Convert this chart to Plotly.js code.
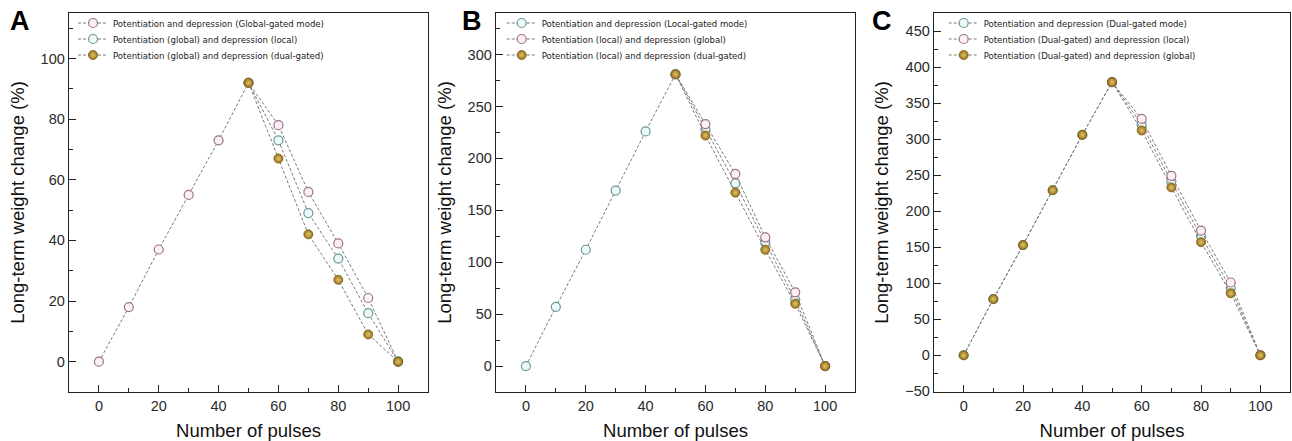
<!DOCTYPE html>
<html>
<head>
<meta charset="utf-8">
<script src="https://cdn.plot.ly/plotly-3.0.1.min.js"></script>
<style>html,body{margin:0;padding:0;background:#fff;}#chart{width:1292px;height:441px;}</style>
</head>
<body>
<div id="chart"></div>
<script>
// ---- Data ----
const pulsesFull = [0, 10, 20, 30, 40, 50, 60, 70, 80, 90, 100];
const pulsesDep = [50, 60, 70, 80, 90, 100];

// Panel A
const aNames = ["Potentiation and depression (Global-gated mode)",
                "Potentiation (global) and depression (local)",
                "Potentiation (global) and depression (dual-gated)"];
const aGlobal = [0, 18, 37, 55, 73, 92, 78, 56, 39, 21, 0];
const aLocalDep = [92, 73, 49, 34, 16, 0];
const aDualDep = [92, 67, 42, 27, 9, 0];

// Panel B
const bNames = ["Potentiation and depression (Local-gated mode)",
                "Potentiation (local) and depression (global)",
                "Potentiation (local) and depression (dual-gated)"];
const bLocal = [0, 57, 112, 169, 226, 281, 228, 176, 119, 64, 0];
const bGlobalDep = [281, 233, 185, 124, 71, 0];
const bDualDep = [281, 222, 167, 112, 60, 0];

// Panel C
const cNames = ["Potentiation and depression (Dual-gated mode)",
                "Potentiation (Dual-gated) and depression (local)",
                "Potentiation (Dual-gated) and depression (global)"];
const cDual = [0, 78, 153, 229, 306, 379, 320, 241, 165, 93, 0];
const cLocalDep = [379, 328, 249, 173, 101, 0];
const cGlobal = [0, 78, 153, 229, 306, 379, 312, 233, 157, 86, 0];

// Tick labels
const xTickVals = [0, 20, 40, 60, 80, 100];
const xTitle = "Number of pulses";
const yTitle = "Long-term weight change (%)";
const panelLetters = ["A", "B", "C"];

// ---- Styles ----
const lineStyle = {color: "#7a7a7a", width: 1, dash: "3px,2px"};
const pinkM = {symbol: "circle", size: 9, color: "#fcf0f6", line: {color: "#9c7088", width: 1.2}};
const cyanM = {symbol: "circle", size: 9, color: "#eefafa", line: {color: "#6a9696", width: 1.2}};
const goldM = {symbol: "circle", size: 9, color: "#9a7418", gradient: {type: "radial", color: "#e2c46e"}, line: {color: "#7a5a12", width: 0.8}};

const legendIds = ["legend", "legend2", "legend3", "legend4", "legend5", "legend6", "legend7", "legend8", "legend9"];

function tr(x, y, name, marker, xa, ya, leg) {
  return {x: x, y: y, name: name, type: "scatter", mode: "lines+markers",
          line: lineStyle, marker: marker, xaxis: xa, yaxis: ya, legend: leg};
}

const data = [
  tr(pulsesFull, aGlobal, aNames[0], pinkM, "x", "y", legendIds[0]),
  tr(pulsesDep, aLocalDep, aNames[1], cyanM, "x", "y", legendIds[1]),
  tr(pulsesDep, aDualDep, aNames[2], goldM, "x", "y", legendIds[2]),
  tr(pulsesFull, bLocal, bNames[0], cyanM, "x2", "y2", legendIds[3]),
  tr(pulsesDep, bGlobalDep, bNames[1], pinkM, "x2", "y2", legendIds[4]),
  tr(pulsesDep, bDualDep, bNames[2], goldM, "x2", "y2", legendIds[5]),
  tr(pulsesFull, cDual, cNames[0], cyanM, "x3", "y3", legendIds[6]),
  tr(pulsesDep, cLocalDep, cNames[1], pinkM, "x3", "y3", legendIds[7]),
  tr(pulsesFull, cGlobal, cNames[2], goldM, "x3", "y3", legendIds[8])
];

const tickFont = {family: "Liberation Sans, Arial, sans-serif", size: 14.5, color: "#2a2a2a"};
const titleFont = {family: "Liberation Sans, Arial, sans-serif", size: 18.5, color: "#111"};

function xax(domain, anchor) {
  return {domain: domain, anchor: anchor, range: [-10, 110], tickvals: xTickVals,
    ticks: "inside", ticklen: 7, tickwidth: 1, tickcolor: "#222",
    minor: {dtick: 10, tick0: 0, ticks: "inside", ticklen: 4, tickcolor: "#222"},
    showline: true, linecolor: "#222", linewidth: 1.3, mirror: true, showgrid: false, zeroline: false,
    tickfont: tickFont, title: {text: xTitle, font: titleFont, standoff: 11}};
}
function yax(domain, anchor, range, dtick, minor) {
  return {domain: domain, anchor: anchor, range: range, dtick: dtick, tick0: 0,
    ticks: "inside", ticklen: 7, tickwidth: 1, tickcolor: "#222",
    minor: {dtick: minor, tick0: 0, ticks: "inside", ticklen: 4, tickcolor: "#222"},
    showline: true, linecolor: "#222", linewidth: 1.3, mirror: true, showgrid: false, zeroline: false,
    tickfont: tickFont, title: {text: yTitle, font: titleFont, standoff: 11}};
}

const yd = [0.1111, 0.9705];
const legFont = {family: "DejaVu Sans Condensed, DejaVu Sans, sans-serif", size: 9.5, color: "#222"};
function leg(x, ypx) {
  return {x: x, y: 1 - ypx / 441, xanchor: "left", yanchor: "middle", font: legFont, bgcolor: "rgba(0,0,0,0)",
          itemwidth: 30, borderwidth: 0};
}
const letterFont = {family: "Liberation Sans, Arial", size: 27, color: "#000"};
const legRows = [23, 39, 55];
const legX = [0.0565, 0.3883, 0.7304];

const layout = {
  width: 1292, height: 441,
  margin: {l: 0, r: 0, t: 0, b: 0},
  paper_bgcolor: "#fff", plot_bgcolor: "#fff",
  showlegend: true,
  xaxis: xax([0.0534, 0.3313], "y"),
  yaxis: yax(yd, "x", [-10, 115], 20, 10),
  xaxis2: xax([0.3839, 0.6618], "y2"),
  yaxis2: yax(yd, "x2", [-25, 340], 50, 25),
  xaxis3: xax([0.7229, 0.9985], "y3"),
  yaxis3: yax(yd, "x3", [-51, 475], 50, 25),
  annotations: [
    {text: "<b>" + panelLetters[0] + "</b>", x: 0.006, y: 0.99, xref: "paper", yref: "paper", xanchor: "left", yanchor: "top", showarrow: false, font: letterFont},
    {text: "<b>" + panelLetters[1] + "</b>", x: 0.356, y: 0.99, xref: "paper", yref: "paper", xanchor: "left", yanchor: "top", showarrow: false, font: letterFont},
    {text: "<b>" + panelLetters[2] + "</b>", x: 0.673, y: 0.99, xref: "paper", yref: "paper", xanchor: "left", yanchor: "top", showarrow: false, font: letterFont}
  ]
};
for (let p = 0; p < 3; p++) {
  for (let r = 0; r < 3; r++) {
    layout[legendIds[p * 3 + r]] = leg(legX[p], legRows[r]);
  }
}

Plotly.newPlot("chart", data, layout, {displayModeBar: false, staticPlot: true});
</script>
</body>
</html>
